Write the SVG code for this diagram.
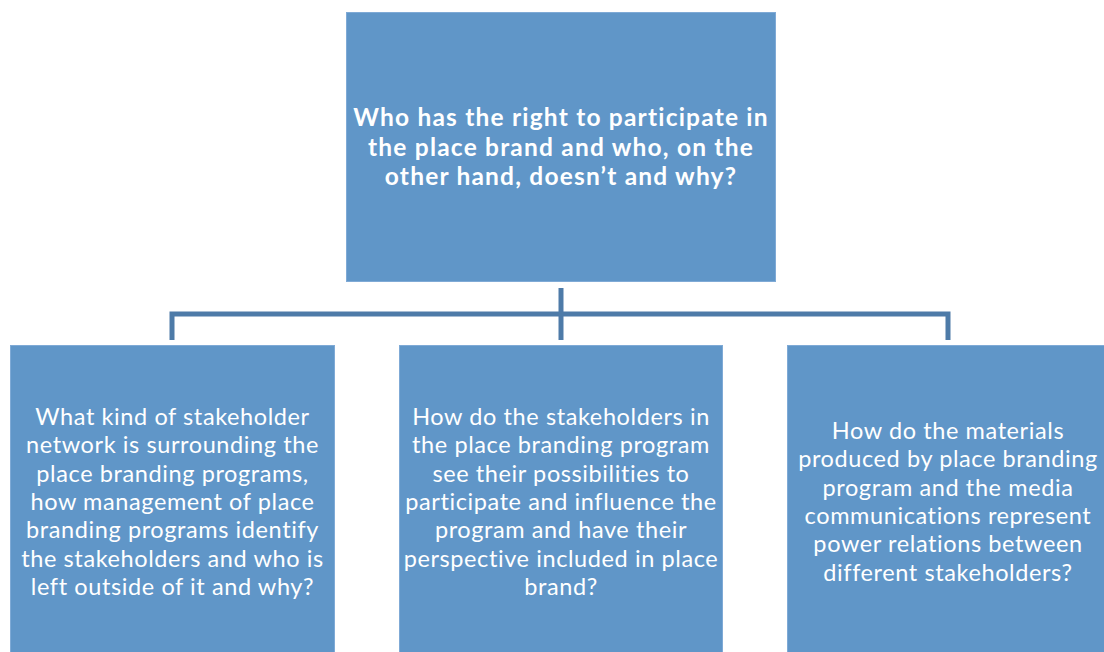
<svg xmlns="http://www.w3.org/2000/svg" width="1104" height="652" viewBox="0 0 1104 652">
<style>
.box{fill:#6096C8;stroke:#7FAAD6;stroke-width:1}
.t{fill:#FFFFFF;font-family:Lato,"Open Sans",sans-serif;text-anchor:middle}
.h{font-size:24.5px;font-weight:bold;letter-spacing:1.2px}
.b{font-size:23.5px;letter-spacing:0.6px}
.c{fill:none;stroke:#4E7BA8;stroke-width:5}
</style>
<rect width="1104" height="652" fill="#FFFFFF"/>
<g id="connectors">
<line class="c" x1="561" y1="288" x2="561" y2="340"/>
<polyline class="c" points="172,340 172,314 948,314 948,340"/>
</g>
<g id="root">
<rect class="box" x="346.5" y="12.5" width="429" height="269"/>
<text class="t h" x="561" y="126">Who has the right to participate in</text>
<text class="t h" x="561" y="155.5">the place brand and who, on the</text>
<text class="t h" x="561" y="185">other hand, doesn’t and why?</text>
</g>
<g id="left">
<rect class="box" x="10.5" y="345.5" width="324" height="310"/>
<text class="t b" x="172.5" y="425">What kind of stakeholder</text>
<text class="t b" x="172.5" y="453.3">network is surrounding the</text>
<text class="t b" x="172.5" y="481.7">place branding programs,</text>
<text class="t b" x="172.5" y="510">how management of place</text>
<text class="t b" x="172.5" y="538.3">branding programs identify</text>
<text class="t b" x="172.5" y="566.7">the stakeholders and who is</text>
<text class="t b" x="172.5" y="595">left outside of it and why?</text>
</g>
<g id="middle">
<rect class="box" x="399.5" y="345.5" width="323" height="310"/>
<text class="t b" x="561" y="425">How do the stakeholders in</text>
<text class="t b" x="561" y="453.3">the place branding program</text>
<text class="t b" x="561" y="481.7">see their possibilities to</text>
<text class="t b" x="561" y="510">participate and influence the</text>
<text class="t b" x="561" y="538.3">program and have their</text>
<text class="t b" x="561" y="566.7">perspective included in place</text>
<text class="t b" x="561" y="595">brand?</text>
</g>
<g id="right">
<rect class="box" x="787.5" y="345.5" width="330" height="310"/>
<text class="t b" x="948" y="439">How do the materials</text>
<text class="t b" x="948" y="467.3">produced by place branding</text>
<text class="t b" x="948" y="495.7">program and the media</text>
<text class="t b" x="948" y="524">communications represent</text>
<text class="t b" x="948" y="552.3">power relations between</text>
<text class="t b" x="948" y="580.7">different stakeholders?</text>
</g>
</svg>
